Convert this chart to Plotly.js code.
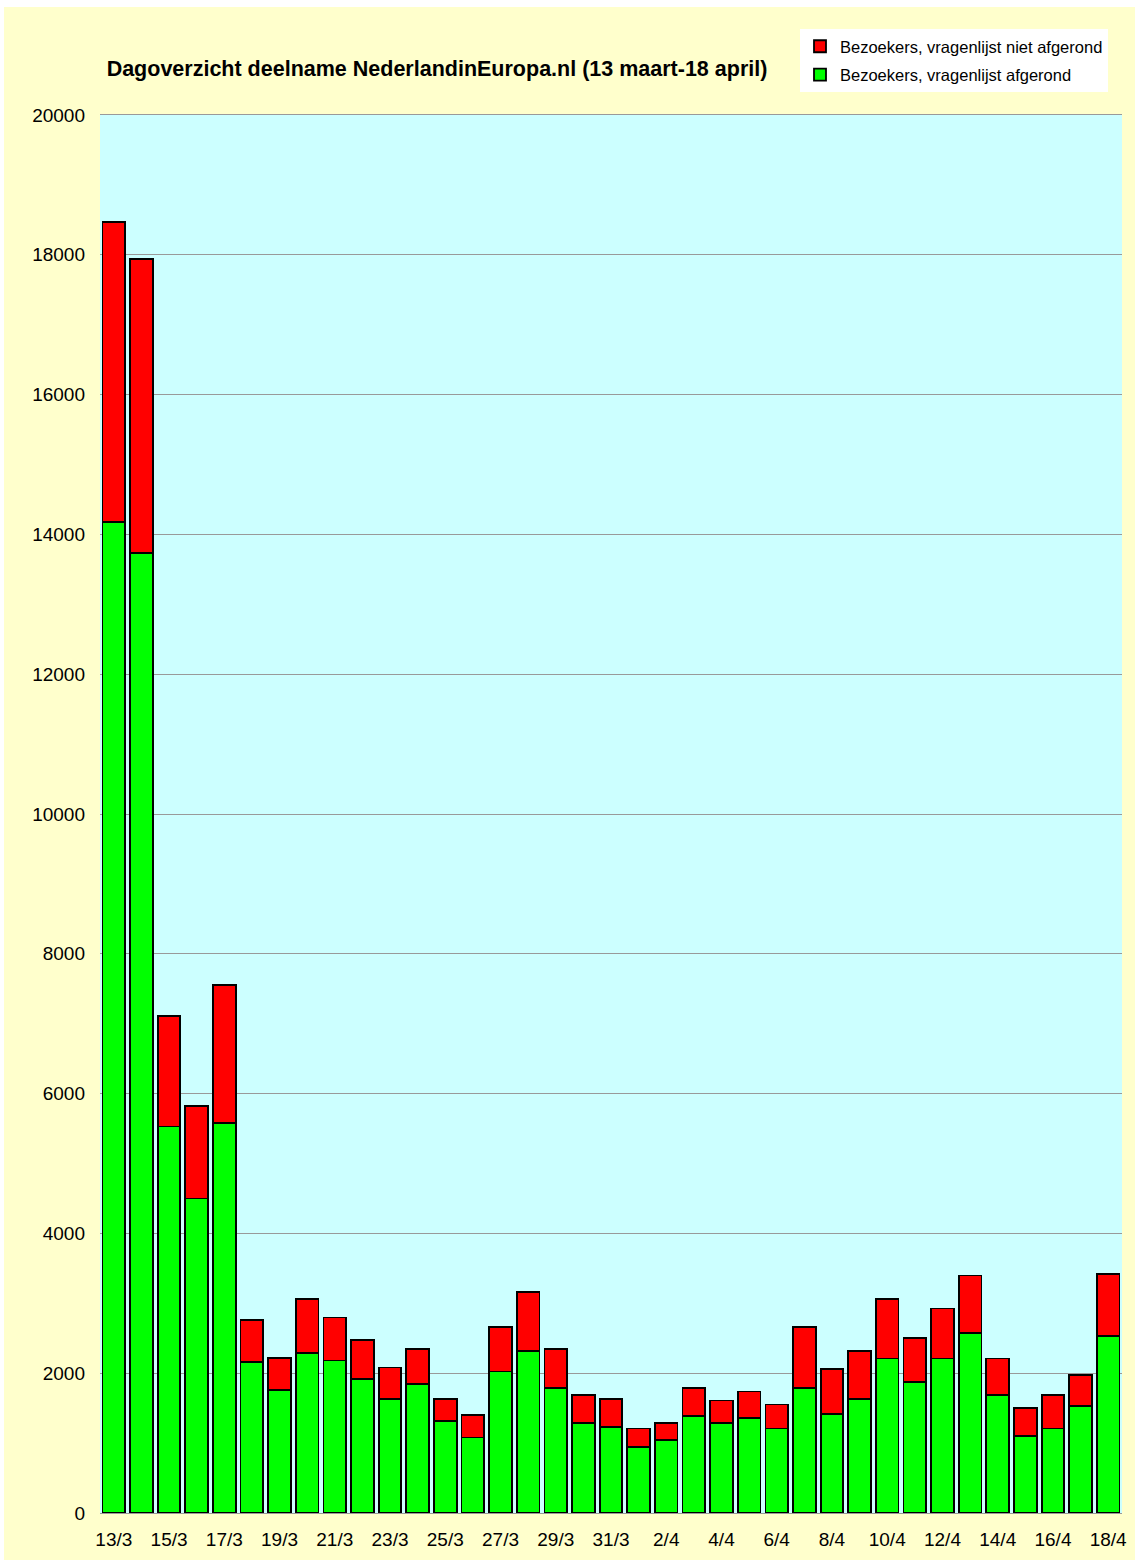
<!DOCTYPE html>
<html>
<head>
<meta charset="utf-8">
<script src="https://cdn.plot.ly/plotly-3.0.1.min.js"></script>
<style>
html,body{margin:0;padding:0;background:#ffffff;}
#chart{width:1135px;height:1560px;}
</style>
</head>
<body>
<div id="chart"></div>
<script>
// Days (categories)
const days = ["13/3","14/3","15/3","16/3","17/3","18/3","19/3","20/3","21/3","22/3","23/3","24/3","25/3","26/3","27/3","28/3","29/3","30/3","31/3","1/4","2/4","3/4","4/4","5/4","6/4","7/4","8/4","9/4","10/4","11/4","12/4","13/4","14/4","15/4","16/4","17/4","18/4"];

// Visitors who completed the questionnaire (green)
const afgerond = [14180,13733,5528,4500,5580,2157,1756,2287,2181,1914,1632,1842,1317,1079,2024,2315,1785,1284,1231,945,1050,1389,1284,1360,1208,1785,1417,1632,2210,1871,2210,2577,1685,1098,1208,1527,2530];

// Visitors who did not complete the questionnaire (red, stacked on top)
const nietAfgerond = [4286,4210,1582,1318,1973,606,459,772,616,558,449,501,315,319,639,845,558,401,401,263,239,401,325,378,344,878,640,687,854,630,716,821,525,401,477,449,892];

// Tick labels shown on the x axis
const xTickLabels = ["13/3","15/3","17/3","19/3","21/3","23/3","25/3","27/3","29/3","31/3","2/4","4/4","6/4","8/4","10/4","12/4","14/4","16/4","18/4"];

const seriesNames = ["Bezoekers, vragenlijst afgerond","Bezoekers, vragenlijst niet afgerond"];
const titleText = "Dagoverzicht deelname NederlandinEuropa.nl (13 maart-18 april)";

const FONT = "Liberation Sans, Arial, Helvetica, sans-serif";

const traces = [
  {
    type: "bar", name: seriesNames[0], x: days, y: afgerond,
    legendgroup: "g1", legendrank: 2,
    marker: {color: "#00FF00", line: {color: "#000000", width: 1.8}},
    hoverinfo: "x+y+name"
  },
  {
    type: "bar", name: seriesNames[1], x: days, y: nietAfgerond,
    legendgroup: "g2", legendrank: 1,
    marker: {color: "#FF0000", line: {color: "#000000", width: 1.8}},
    hoverinfo: "x+y+name"
  }
];

const layout = {
  width: 1135, height: 1560,
  margin: {l: 100, r: 13, t: 115, b: 47, pad: 0, autoexpand: false},
  paper_bgcolor: "#FFFFFF",
  plot_bgcolor: "rgba(0,0,0,0)",
  font: {family: FONT, color: "#000000"},
  barmode: "stack",
  bargap: 0.18,
  title: {
    text: "<b>" + titleText + "</b>",
    font: {family: FONT, size: 21.5, color: "#000000"},
    xref: "container", yref: "container",
    x: 437/1135, xanchor: "center",
    y: 1 - 68/1560, yanchor: "middle"
  },
  showlegend: true,
  legend: {
    xref: "container", yref: "container",
    x: 800/1135, xanchor: "left",
    y: 1 - 29/1560, yanchor: "top",
    bgcolor: "#FFFFFF",
    borderwidth: 0,
    traceorder: "grouped",
    tracegroupgap: 4,
    font: {family: FONT, size: 16.5, color: "#000000"}
  },
  xaxis: {
    type: "category",
    tickmode: "array",
    tickvals: xTickLabels,
    ticktext: xTickLabels,
    tickangle: 0,
    ticks: "",
    ticklabelstandoff: 9,
    tickfont: {family: FONT, size: 19, color: "#000000"},
    showgrid: false,
    showline: true, mirror: true,
    linecolor: "#999999", linewidth: 1,
    automargin: false,
    fixedrange: true
  },
  yaxis: {
    range: [0, 20000],
    tickmode: "linear", tick0: 0, dtick: 2000,
    tickformat: "d",
    ticks: "",
    ticklabelstandoff: 14,
    tickfont: {family: FONT, size: 19, color: "#000000"},
    showgrid: true, gridcolor: "#999999", gridwidth: 1,
    zeroline: false,
    showline: false,
    automargin: false,
    fixedrange: true
  },
  shapes: [
    {type: "rect", xref: "paper", yref: "paper", layer: "below",
     x0: -96/1022, x1: 1.05, y0: -0.05, y1: (1513-7)/1398,
     fillcolor: "#FFFFCC", line: {width: 0}},
    {type: "rect", xref: "paper", yref: "paper", layer: "below",
     x0: 0, x1: 1, y0: 0, y1: 1,
     fillcolor: "#CCFFFF", line: {width: 0}}
  ]
};

Plotly.newPlot("chart", traces, layout, {displayModeBar: false, staticPlot: true});
</script>
</body>
</html>
